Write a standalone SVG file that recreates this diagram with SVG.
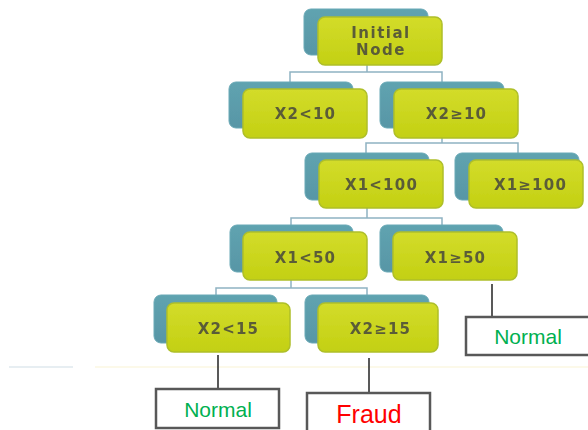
<svg xmlns="http://www.w3.org/2000/svg" width="588" height="430" viewBox="0 0 588 430">
  <defs>
    <linearGradient id="lime" x1="0" y1="0" x2="0" y2="1">
      <stop offset="0" stop-color="#d3dc2a"/>
      <stop offset="1" stop-color="#c3d013"/>
    </linearGradient>
    <linearGradient id="teal" x1="0" y1="0" x2="0" y2="1">
      <stop offset="0" stop-color="#5fa3b0"/>
      <stop offset="1" stop-color="#5896a6"/>
    </linearGradient>
    <filter id="soft" x="-5%" y="-5%" width="110%" height="110%">
      <feGaussianBlur stdDeviation="0.5"/>
    </filter>
  </defs>
  <style>
    .back { fill: url(#teal); stroke: #6aa9b6; stroke-width: 1; }
    .front { fill: url(#lime); stroke: #aebf2a; stroke-width: 1.5; }
    .lbl { font-family: "DejaVu Sans", Verdana, sans-serif; font-size: 15px; font-weight: bold; letter-spacing: 1.2px; fill: #5a5c38; text-anchor: middle; }
    .lbl15 { font-size: 15px; letter-spacing: 1.5px; }
    .tree { fill: none; stroke: #8fb2c2; stroke-width: 1.5; }
    .leaf-line { fill: none; stroke: #222; stroke-width: 1.5; }
    .leaf { fill: #fff; stroke: #585858; stroke-width: 2.5; }
    .out { font-family: "Liberation Sans", Arial, sans-serif; text-anchor: middle; }
    .normal { fill: #00b050; font-size: 21px; }
    .fraud { fill: #ff0000; font-size: 25px; }
  </style>
  <rect width="588" height="430" fill="#ffffff"/>

  <!-- faint rule across the lower part -->
  <line x1="9" y1="367" x2="73" y2="367" stroke="#dfe9ee" stroke-width="1.5"/>
  <line x1="95" y1="367" x2="588" y2="367" stroke="#fbf7e2" stroke-width="1.5"/>

  <!-- tree connectors -->
  <g id="connectors">
    <path class="tree" d="M367 55 V72 M290 82 V72 H442 V82"/>
    <path class="tree" d="M442 128 V143 M366 153 V143 H518 V153"/>
    <path class="tree" d="M367 200 V218 M291 225 V218 H442 V225"/>
    <path class="tree" d="M291 272 V288 M216 295 V288 H367 V295"/>
    <path class="leaf-line" d="M218 355 V389"/>
    <path class="leaf-line" d="M369 358 V393"/>
    <path class="leaf-line" d="M492 284 V317"/>
  </g>

  <g filter="url(#soft)">
    <g id="initial-node">
      <rect class="back" x="304" y="9" width="124" height="46" rx="7"/>
      <rect class="front" x="318" y="17" width="124" height="48" rx="7"/>
      <text class="lbl lbl15" x="381" y="37.5">Initial</text>
      <text class="lbl lbl15" x="381" y="54.5">Node</text>
    </g>
    <g id="x2-lt-10">
      <rect class="back" x="229" y="82" width="124" height="46" rx="7"/>
      <rect class="front" x="243" y="89" width="124" height="49" rx="7"/>
      <text class="lbl" x="305.5" y="118.5">X2&lt;10</text>
    </g>
    <g id="x2-ge-10">
      <rect class="back" x="380" y="82" width="124" height="46" rx="7"/>
      <rect class="front" x="394" y="89" width="124" height="49" rx="7"/>
      <text class="lbl" x="456.5" y="118.5">X2≥10</text>
    </g>
    <g id="x1-lt-100">
      <rect class="back" x="305" y="153" width="124" height="47" rx="7"/>
      <rect class="front" x="319" y="160" width="124" height="48" rx="7"/>
      <text class="lbl" x="381.5" y="189.5">X1&lt;100</text>
    </g>
    <g id="x1-ge-100">
      <rect class="back" x="455" y="153" width="124" height="47" rx="7"/>
      <rect class="front" x="469" y="160" width="114" height="48" rx="7"/>
      <text class="lbl" x="530.5" y="189.5">X1≥100</text>
    </g>
    <g id="x1-lt-50">
      <rect class="back" x="230" y="225" width="123" height="47" rx="7"/>
      <rect class="front" x="243" y="232" width="124" height="48" rx="7"/>
      <text class="lbl" x="305.5" y="262.5">X1&lt;50</text>
    </g>
    <g id="x1-ge-50">
      <rect class="back" x="380" y="225" width="123" height="47" rx="7"/>
      <rect class="front" x="393" y="232" width="124" height="48" rx="7"/>
      <text class="lbl" x="455.5" y="262.5">X1≥50</text>
    </g>
    <g id="x2-lt-15">
      <rect class="back" x="154" y="295" width="123" height="48" rx="7"/>
      <rect class="front" x="167" y="303" width="123" height="49" rx="7"/>
      <text class="lbl" x="228.5" y="333.5">X2&lt;15</text>
    </g>
    <g id="x2-ge-15">
      <rect class="back" x="305" y="295" width="124" height="48" rx="7"/>
      <rect class="front" x="318" y="303" width="120" height="49" rx="7"/>
      <text class="lbl" x="380.5" y="333.5">X2≥15</text>
    </g>
  </g>

  <g id="leaf-normal-left">
    <rect class="leaf" x="156" y="389" width="123" height="39"/>
    <text class="out normal" x="218" y="417">Normal</text>
  </g>
  <g id="leaf-fraud">
    <rect class="leaf" x="307" y="393" width="123" height="42"/>
    <text class="out fraud" x="369" y="423">Fraud</text>
  </g>
  <g id="leaf-normal-right">
    <rect class="leaf" x="466" y="317" width="126" height="38"/>
    <text class="out normal" x="528" y="343.5">Normal</text>
  </g>
</svg>
